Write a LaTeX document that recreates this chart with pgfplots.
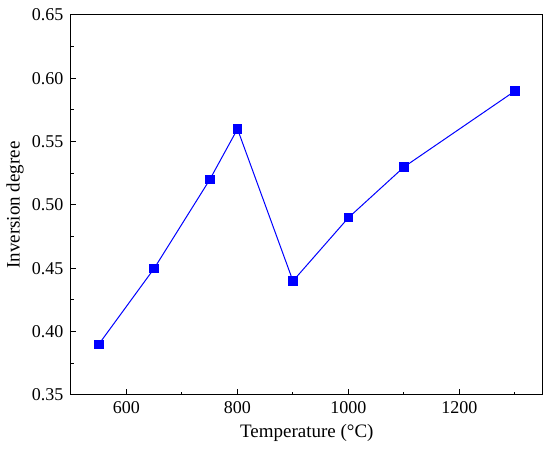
\documentclass[border=0pt]{standalone}
\usepackage{pgfplots}
\pgfplotsset{compat=1.18}
\usepackage{fontspec}
\setmainfont{Liberation Serif}
\begin{document}
\begin{tikzpicture}
\path[use as bounding box] (-71pt,-58pt) rectangle (479pt,395pt);
\begin{axis}[
  at={(0pt,0pt)}, anchor=south west,
  scale only axis, width=471.7pt, height=380pt,
  xmin=500, xmax=1350, ymin=0.35, ymax=0.65,
  xtick={600,800,1000,1200}, minor xtick={700,900,1100,1300},
  ytick={0.35,0.40,...,0.66}, minor ytick={0.375,0.425,...,0.63},
  xticklabel style={yshift=-3pt, /pgf/number format/set thousands separator={}},
  yticklabel style={xshift=-4pt, /pgf/number format/fixed, /pgf/number format/fixed zerofill, /pgf/number format/precision=2},
  /pgf/number format/assume math mode=true,
  tick align=inside, tick pos=left,
  major tick length=5.5pt, minor tick length=3pt,
  tick style={black, line width=1pt},
  axis line style={line width=1pt},
  xlabel={Temperature (°C)}, ylabel={Inversion degree},
  xlabel style={at={(axis description cs:0.5,-0.1)}, anchor=center},
  ylabel style={at={(axis description cs:-0.1187,0.5)}, anchor=center},
  tick label style={font=\fontsize{18}{22}\selectfont},
  label style={font=\fontsize{19}{23}\selectfont},
]
\addplot[blue, line width=1pt, mark=square*, mark size=4.3pt, mark options={fill=blue, draw=blue}]
 coordinates {(550,0.39) (650,0.45) (750,0.52) (800,0.56) (900,0.44) (1000,0.49) (1100,0.53) (1300,0.59)};
\end{axis}
\end{tikzpicture}
\end{document}
